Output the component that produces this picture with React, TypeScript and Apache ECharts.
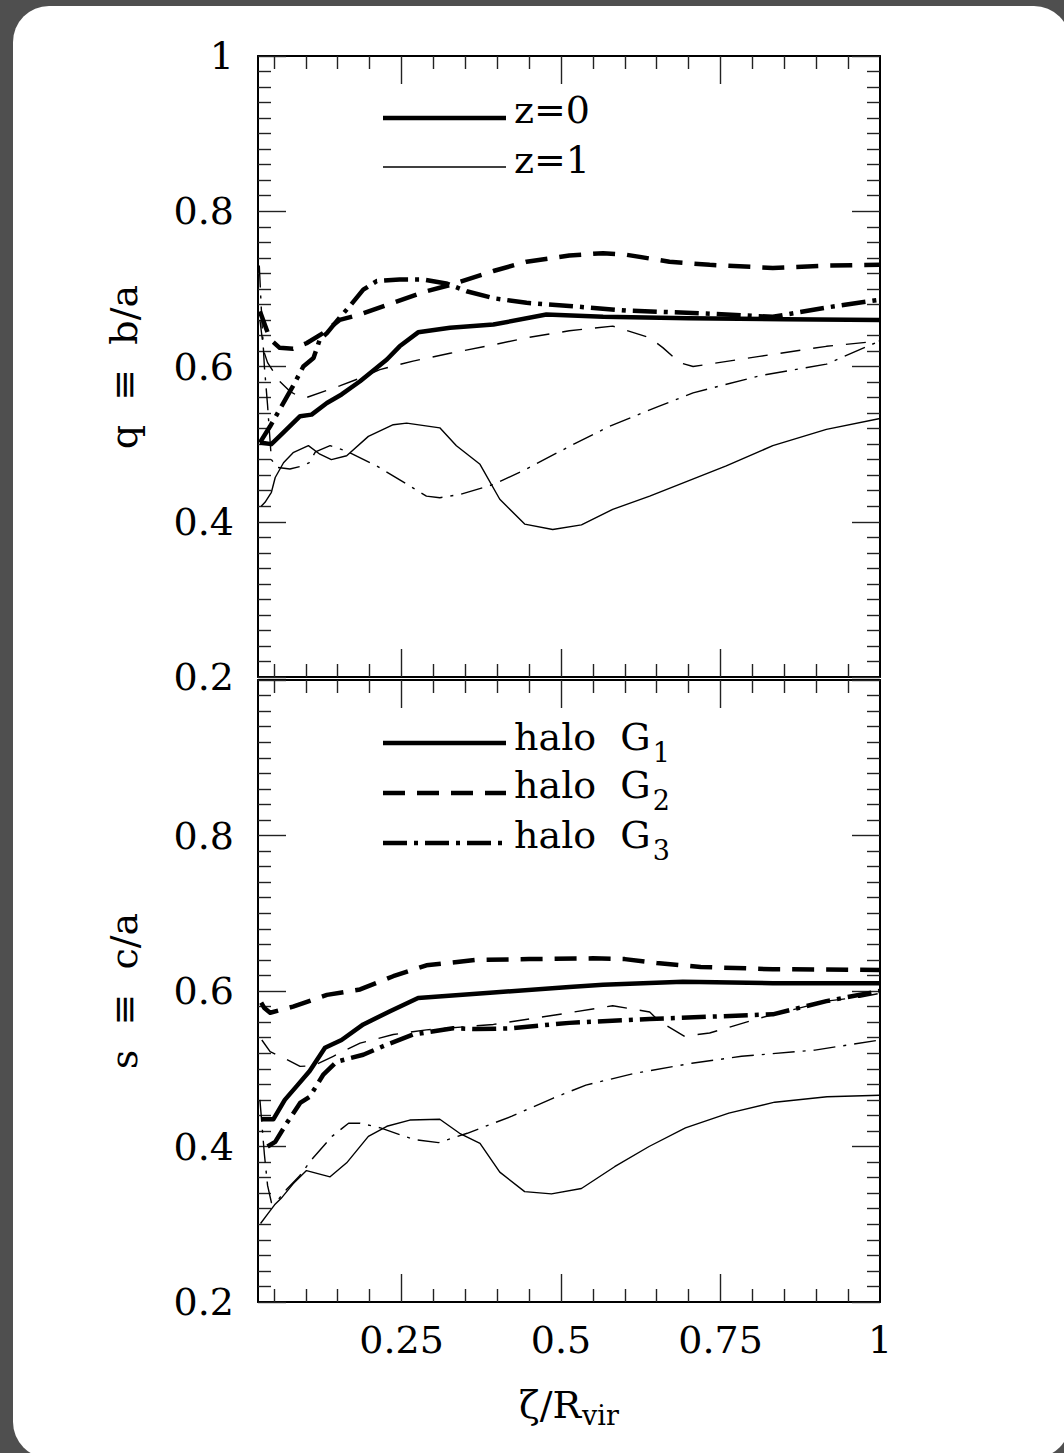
import React, { useEffect, useRef } from 'react';
import * as echarts from 'echarts';

// ---------- axis values ----------
const X_MIN = 0.025;
const X_MAX = 1;
const X_MAJOR = [0.25, 0.5, 0.75];
const X_LABELS = [0.25, 0.5, 0.75, 1];
const X_MINOR = [0.05, 0.1, 0.15, 0.2, 0.3, 0.35, 0.4, 0.45, 0.55, 0.6, 0.65, 0.7, 0.8, 0.85, 0.9, 0.95];
const Y_MIN = 0.2;
const Y_MAX = 1;
const Y_STEP = 0.2;

// ---------- top panel: q = b/a ----------
const Q_G1_Z0_X = [0.028, 0.046, 0.065, 0.091, 0.109, 0.133, 0.156, 0.185, 0.227, 0.247, 0.276, 0.326, 0.394, 0.477, 0.566, 0.7, 0.85, 1.0];
const Q_G1_Z0_Y = [0.502, 0.5, 0.515, 0.536, 0.538, 0.553, 0.564, 0.581, 0.609, 0.626, 0.644, 0.65, 0.654, 0.667, 0.664, 0.662, 0.661, 0.66];

const Q_G2_Z0_X = [0.028, 0.044, 0.059, 0.08, 0.101, 0.127, 0.153, 0.185, 0.237, 0.289, 0.326, 0.394, 0.446, 0.513, 0.566, 0.602, 0.67, 0.733, 0.832, 0.916, 1.0];
const Q_G2_Z0_Y = [0.671, 0.635, 0.624, 0.623, 0.63, 0.643, 0.66, 0.667, 0.682, 0.697, 0.705, 0.723, 0.735, 0.743, 0.746, 0.744, 0.735, 0.731, 0.727, 0.73, 0.731];

const Q_G3_Z0_X = [0.028, 0.044, 0.062, 0.08, 0.096, 0.112, 0.122, 0.133, 0.153, 0.169, 0.19, 0.211, 0.247, 0.284, 0.32, 0.352, 0.394, 0.446, 0.513, 0.602, 0.706, 0.832, 0.916, 1.0];
const Q_G3_Z0_Y = [0.502, 0.523, 0.549, 0.575, 0.6, 0.611, 0.635, 0.643, 0.663, 0.678, 0.699, 0.71, 0.712, 0.712, 0.707, 0.697, 0.688, 0.682, 0.678, 0.672, 0.669, 0.664, 0.676, 0.686];

const Q_G1_Z1_X = [0.03, 0.036, 0.046, 0.052, 0.065, 0.08, 0.104, 0.122, 0.14, 0.164, 0.198, 0.237, 0.258, 0.31, 0.336, 0.373, 0.404, 0.443, 0.487, 0.532, 0.581, 0.639, 0.759, 0.832, 0.916, 1.0];
const Q_G1_Z1_Y = [0.42, 0.425, 0.438, 0.457, 0.476, 0.489, 0.498, 0.487, 0.48, 0.485, 0.51, 0.525, 0.527, 0.521, 0.498, 0.474, 0.429, 0.397, 0.39, 0.396, 0.416, 0.433, 0.472, 0.498, 0.519, 0.533];

const Q_G2_Z1_X = [0.028, 0.034, 0.04, 0.06, 0.075, 0.09, 0.101, 0.153, 0.185, 0.216, 0.268, 0.326, 0.394, 0.446, 0.513, 0.581, 0.639, 0.66, 0.686, 0.707, 0.811, 0.916, 1.0];
const Q_G2_Z1_Y = [0.66, 0.62, 0.605, 0.58, 0.568, 0.561, 0.56, 0.575, 0.585, 0.596, 0.607, 0.617, 0.628, 0.637, 0.646, 0.652, 0.637, 0.624, 0.605, 0.6, 0.613, 0.626, 0.633];

const Q_G3_Z1_X = [0.027, 0.031, 0.035, 0.04, 0.046, 0.055, 0.075, 0.095, 0.105, 0.115, 0.138, 0.164, 0.211, 0.263, 0.289, 0.31, 0.341, 0.394, 0.446, 0.513, 0.576, 0.654, 0.707, 0.811, 0.916, 1.0];
const Q_G3_Z1_Y = [0.73, 0.66, 0.6, 0.55, 0.48, 0.47, 0.468, 0.472, 0.476, 0.49, 0.498, 0.491, 0.472, 0.446, 0.433, 0.431, 0.435, 0.448, 0.468, 0.497, 0.523, 0.549, 0.566, 0.588, 0.603, 0.633];

// ---------- bottom panel: s = c/a ----------
const S_G1_Z0_X = [0.031, 0.049, 0.067, 0.086, 0.106, 0.13, 0.156, 0.19, 0.232, 0.276, 0.394, 0.513, 0.566, 0.691, 0.832, 1.0];
const S_G1_Z0_Y = [0.435, 0.435, 0.46, 0.478, 0.497, 0.527, 0.537, 0.557, 0.574, 0.591, 0.598, 0.605, 0.608, 0.612, 0.61, 0.61];

const S_G2_Z0_X = [0.03, 0.035, 0.044, 0.08, 0.133, 0.185, 0.237, 0.289, 0.367, 0.45, 0.55, 0.6, 0.65, 0.719, 0.832, 1.0];
const S_G2_Z0_Y = [0.585, 0.578, 0.572, 0.58, 0.595, 0.602, 0.619, 0.633, 0.64, 0.641, 0.642, 0.641, 0.636, 0.631, 0.628, 0.627];

const S_G3_Z0_X = [0.04, 0.052, 0.07, 0.091, 0.106, 0.127, 0.148, 0.19, 0.227, 0.268, 0.331, 0.367, 0.42, 0.513, 0.639, 0.832, 0.916, 1.0];
const S_G3_Z0_Y = [0.4, 0.406, 0.43, 0.456, 0.464, 0.492, 0.509, 0.518, 0.531, 0.544, 0.552, 0.551, 0.552, 0.559, 0.564, 0.57, 0.587, 0.6];

const S_G1_Z1_X = [0.029, 0.04, 0.051, 0.061, 0.08, 0.101, 0.138, 0.164, 0.198, 0.227, 0.263, 0.31, 0.341, 0.373, 0.404, 0.443, 0.485, 0.532, 0.584, 0.638, 0.695, 0.763, 0.835, 0.917, 1.0];
const S_G1_Z1_Y = [0.301, 0.313, 0.325, 0.333, 0.352, 0.369, 0.361, 0.379, 0.413, 0.426, 0.434, 0.435, 0.417, 0.404, 0.367, 0.342, 0.339, 0.346, 0.374, 0.4, 0.424, 0.443, 0.457, 0.464, 0.466];

const S_G2_Z1_X = [0.031, 0.044, 0.065, 0.091, 0.112, 0.143, 0.185, 0.237, 0.289, 0.394, 0.513, 0.581, 0.639, 0.654, 0.693, 0.733, 0.811, 0.916, 0.968, 1.0];
const S_G2_Z1_Y = [0.537, 0.522, 0.514, 0.503, 0.504, 0.516, 0.533, 0.544, 0.55, 0.557, 0.572, 0.581, 0.573, 0.561, 0.542, 0.546, 0.565, 0.587, 0.592, 0.597];

const S_G3_Z1_X = [0.028, 0.032, 0.035, 0.04, 0.046, 0.055, 0.07, 0.09, 0.109, 0.141, 0.167, 0.185, 0.217, 0.269, 0.308, 0.353, 0.423, 0.487, 0.539, 0.615, 0.705, 0.783, 0.898, 1.0];
const S_G3_Z1_Y = [0.46, 0.42, 0.39, 0.35, 0.328, 0.33, 0.345, 0.362, 0.383, 0.413, 0.43, 0.43, 0.424, 0.409, 0.405, 0.417, 0.439, 0.462, 0.479, 0.494, 0.507, 0.516, 0.524, 0.537];

// ---------- styles ----------
const FONT = '"DejaVu Serif", serif';
const FS = 38;
const SUB_FS = 27;
const THICK = 4.5;
const THIN = 1.4;
const DASH_THICK = [22, 12];
const DASHDOT_THICK = [24, 7, 4, 7];
const DASH_THIN = [20, 13];
const DASHDOT_THIN = [22, 8, 3, 8];

const GRIDS = [
  { left: 258, top: 56, width: 622, height: 621 },
  { left: 258, top: 680, width: 622, height: 622 },
];

const pairs = (xs: number[], ys: number[]) => xs.map((x, i) => [x, ys[i]]);

const measure = (text: string, font: string) => {
  const ctx = document.createElement('canvas').getContext('2d')!;
  ctx.font = font;
  return ctx.measureText(text).width;
};

const frameLine = { color: '#000', width: 2 };
const tickLine = { color: '#222', width: 1.4 };

function xAxes(gridIndex: number, showLabels: boolean) {
  const base = {
    type: 'value',
    gridIndex,
    min: X_MIN,
    max: X_MAX,
    splitLine: { show: false },
    minorSplitLine: { show: false },
  };
  const major = (position: string, labels: boolean) => ({
    ...base,
    position,
    axisLine: { show: true, onZero: false, lineStyle: frameLine },
    axisTick: { show: true, inside: true, length: 28, customValues: X_MAJOR, lineStyle: tickLine },
    axisLabel: {
      show: labels,
      customValues: X_LABELS,
      margin: 19,
      fontFamily: FONT,
      fontSize: FS,
      color: '#000',
      formatter: (v: number) => String(v),
    },
  });
  const minor = (position: string) => ({
    ...base,
    position,
    axisLine: { show: false, onZero: false },
    axisTick: { show: true, inside: true, length: 13, customValues: X_MINOR, lineStyle: tickLine },
    axisLabel: { show: false },
  });
  return [major('bottom', showLabels), minor('bottom'), major('top', false), minor('top')];
}

function yAxes(gridIndex: number, showMax: boolean) {
  const base = {
    type: 'value',
    gridIndex,
    min: Y_MIN,
    max: Y_MAX,
    interval: Y_STEP,
    splitLine: { show: false },
    minorSplitLine: { show: false },
    axisLine: { show: true, onZero: false, lineStyle: frameLine },
    axisTick: { show: true, inside: true, length: 28, lineStyle: tickLine },
    minorTick: { show: true, splitNumber: 10, length: 13, lineStyle: tickLine },
  };
  return [
    {
      ...base,
      position: 'left',
      axisLabel: {
        show: true,
        margin: 24,
        showMaxLabel: showMax,
        showMinLabel: true,
        fontFamily: FONT,
        fontSize: FS,
        color: '#000',
        formatter: (v: number) => String(Math.round(v * 10) / 10),
      },
    },
    { ...base, position: 'right', axisLabel: { show: false } },
  ];
}

function lineSeries(name: string, panel: number, xs: number[], ys: number[], width: number, dash: any) {
  return {
    name,
    type: 'line',
    xAxisIndex: panel * 4,
    yAxisIndex: panel * 2,
    data: pairs(xs, ys),
    symbol: 'none',
    showSymbol: false,
    silent: true,
    clip: true,
    lineStyle: { color: '#000', width, type: dash, join: 'round' },
    z: 3,
  };
}

function buildGraphic() {
  const mainFont = `${FS}px ${FONT}`;
  const els: any[] = [];
  const legendLine = (y: number, width: number, dash: any) => ({
    type: 'line',
    shape: { x1: 383, y1: y, x2: 506, y2: y },
    style: { stroke: '#000', lineWidth: width, lineDash: dash },
    silent: true,
  });
  const txt = (x: number, y: number, text: string, size: number, extra: any = {}) => ({
    type: 'text',
    x,
    y,
    style: {
      text,
      fontFamily: FONT,
      fontSize: size,
      fill: '#000',
      align: 'left',
      verticalAlign: 'middle',
      ...extra,
    },
    silent: true,
  });

  // top legend (redshift)
  els.push(legendLine(118, THICK, null));
  els.push(txt(514, 110, 'z=0', FS));
  els.push(legendLine(167, THIN, null));
  els.push(txt(514, 160, 'z=1', FS));

  // bottom legend (halos)
  const haloLabel = 'halo\u00A0 G';
  const haloW = measure(haloLabel, mainFont);
  const halos = [
    { y: 743, ty: 737, sub: '1', dash: null },
    { y: 793, ty: 785, sub: '2', dash: DASH_THICK },
    { y: 843, ty: 835, sub: '3', dash: DASHDOT_THICK },
  ];
  halos.forEach((h) => {
    els.push(legendLine(h.y, THICK, h.dash));
    els.push(txt(514, h.ty, haloLabel, FS));
    els.push(txt(514 + haloW + 2, h.ty + 15, h.sub, SUB_FS));
  });

  // y-axis titles
  els.push({
    type: 'text',
    x: 124,
    y: 367,
    rotation: Math.PI / 2,
    style: { text: 'q\u00A0 \u2261 \u00A0b/a', fontFamily: FONT, fontSize: FS, fill: '#000', align: 'center', verticalAlign: 'middle' },
    silent: true,
  });
  els.push({
    type: 'text',
    x: 124,
    y: 991,
    rotation: Math.PI / 2,
    style: { text: 's\u00A0 \u2261 \u00A0c/a', fontFamily: FONT, fontSize: FS, fill: '#000', align: 'center', verticalAlign: 'middle' },
    silent: true,
  });

  // x-axis title
  const mainX = '\u03B6/R';
  const wMain = measure(mainX, mainFont);
  const wSub = measure('vir', `${SUB_FS}px ${FONT}`);
  const startX = 569 - (wMain + wSub + 1) / 2;
  els.push(txt(startX, 1405, mainX, FS));
  els.push(txt(startX + wMain + 1, 1415, 'vir', SUB_FS));
  return els;
}

export default function App() {
  const ref = useRef<HTMLDivElement>(null);
  useEffect(() => {
    if (!ref.current) return;
    const chart = echarts.init(ref.current, null, { renderer: 'svg' });
    const option: any = {
      animation: false,
      backgroundColor: 'transparent',
      grid: GRIDS.map((g) => ({ ...g, containLabel: false })),
      xAxis: [...xAxes(0, false), ...xAxes(1, true)],
      yAxis: [...yAxes(0, true), ...yAxes(1, false)],
      series: [
        lineSeries('q G1 z=0', 0, Q_G1_Z0_X, Q_G1_Z0_Y, THICK, 'solid'),
        lineSeries('q G2 z=0', 0, Q_G2_Z0_X, Q_G2_Z0_Y, THICK, DASH_THICK),
        lineSeries('q G3 z=0', 0, Q_G3_Z0_X, Q_G3_Z0_Y, THICK, DASHDOT_THICK),
        lineSeries('q G1 z=1', 0, Q_G1_Z1_X, Q_G1_Z1_Y, THIN, 'solid'),
        lineSeries('q G2 z=1', 0, Q_G2_Z1_X, Q_G2_Z1_Y, THIN, DASH_THIN),
        lineSeries('q G3 z=1', 0, Q_G3_Z1_X, Q_G3_Z1_Y, THIN, DASHDOT_THIN),
        lineSeries('s G1 z=0', 1, S_G1_Z0_X, S_G1_Z0_Y, THICK, 'solid'),
        lineSeries('s G2 z=0', 1, S_G2_Z0_X, S_G2_Z0_Y, THICK, DASH_THICK),
        lineSeries('s G3 z=0', 1, S_G3_Z0_X, S_G3_Z0_Y, THICK, DASHDOT_THICK),
        lineSeries('s G1 z=1', 1, S_G1_Z1_X, S_G1_Z1_Y, THIN, 'solid'),
        lineSeries('s G2 z=1', 1, S_G2_Z1_X, S_G2_Z1_Y, THIN, DASH_THIN),
        lineSeries('s G3 z=1', 1, S_G3_Z1_X, S_G3_Z1_Y, THIN, DASHDOT_THIN),
      ],
      graphic: buildGraphic(),
    };
    chart.setOption(option);
    return () => chart.dispose();
  }, []);

  return (
    <div style={{ position: 'absolute', left: 0, top: 0, width: 1064, height: 1453, background: '#4f4f4f', overflow: 'hidden' }}>
      <div style={{ position: 'absolute', left: 13, top: 6, width: 1057, height: 1452, background: '#ffffff', borderRadius: 36 }} />
      <div ref={ref} style={{ position: 'absolute', left: 0, top: 0, width: 1064, height: 1453 }} />
    </div>
  );
}
